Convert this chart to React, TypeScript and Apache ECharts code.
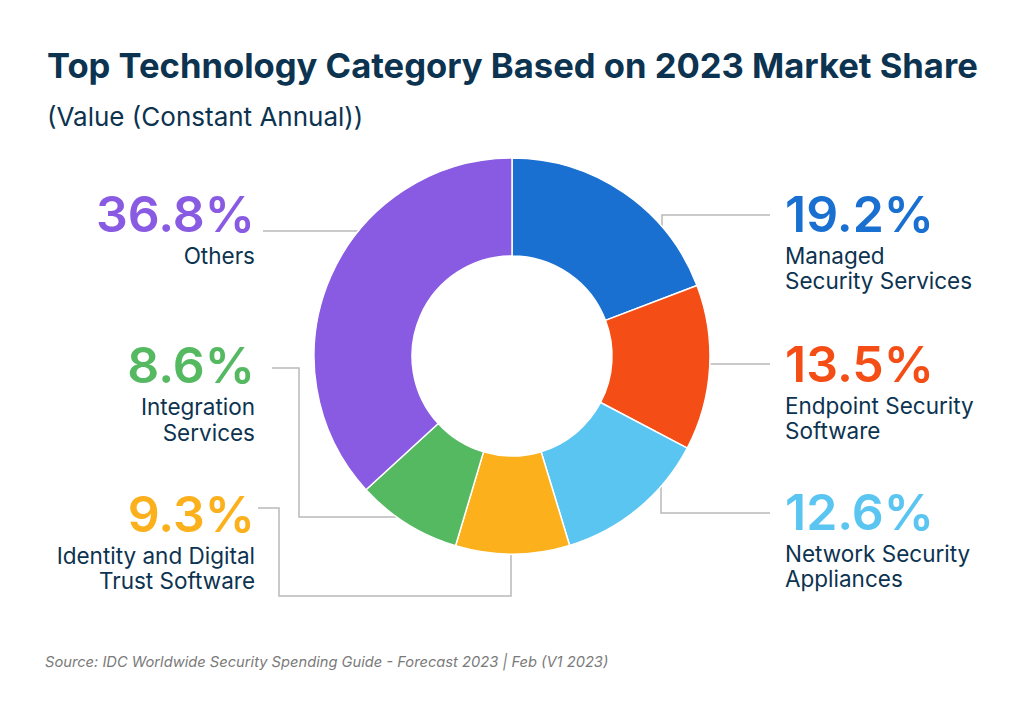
import React, { useEffect, useRef } from "react";
import * as echarts from "echarts";

const categories = [
  "Managed\nSecurity Services",
  "Endpoint Security\nSoftware",
  "Network Security\nAppliances",
  "Identity and Digital\nTrust Software",
  "Integration\nServices",
  "Others",
];
const shares = [19.2, 13.5, 12.6, 9.3, 8.6, 36.8];
const colors = ["#1a70d1", "#f44e16", "#5bc5f2", "#fbb01c", "#55b962", "#895be2"];

const titleText = "Top Technology Category Based on 2023 Market Share";
const subtitleText = "(Value (Constant Annual))";
const sourceText = "Source: IDC Worldwide Security Spending Guide - Forecast 2023 | Feb (V1 2023)";

const NAVY = "#0c3350";
const LINE = "#b9b9b9";
const FONT = "Inter, 'Noto Sans', sans-serif";

// pie geometry (layout)
const CX = 512;
const CY = 356;
const R_IN = 100;
const R_OUT = 198;
const edgeX = (y: number, side: number) => CX + side * Math.sqrt(R_OUT * R_OUT - (y - CY) * (y - CY));
const edgeY = (x: number, side: number) => CY + side * Math.sqrt(R_OUT * R_OUT - (x - CX) * (x - CX));

// label anchor boxes (layout)
const labelBoxes = [
  { x: 785, y: 184.5, align: "left" },
  { x: 785, y: 334.5, align: "left" },
  { x: 785, y: 482.5, align: "left" },
  { x: 255, y: 484.5, align: "right" },
  { x: 255, y: 336, align: "right" },
  { x: 255, y: 184.5, align: "right" },
];

// leader line routes (layout)
const leaderLines: number[][][] = [
  [[662, edgeY(662, -1)], [662, 215], [770, 215]],
  [[edgeX(364, 1), 364], [770, 364]],
  [[661, edgeY(661, 1)], [661, 513], [770, 513]],
  [[511, edgeY(511, 1)], [511, 596], [279, 596], [279, 508], [258, 508]],
  [[edgeX(517, -1), 517], [299, 517], [299, 368], [272, 368]],
  [[edgeX(231, -1), 231], [263, 231]],
];

export default function App() {
  const ref = useRef<HTMLDivElement>(null);

  useEffect(() => {
    document.body.style.margin = "0";
    if (!ref.current) return;
    const chart = echarts.init(ref.current, null, { renderer: "svg" });

    const data = categories.map((name, i) => ({
      name,
      value: shares[i],
      itemStyle: { color: colors[i] },
      label: {
        rich: {
          p: { fontFamily: FONT, fontSize: 50, fontWeight: 600, lineHeight: 58, color: colors[i] },
          n: { fontFamily: FONT, fontSize: 22.5, lineHeight: 25.5, color: NAVY },
        },
      },
    }));

    chart.setOption({
      animation: false,
      backgroundColor: "#ffffff",
      graphic: [
        {
          type: "text",
          left: 47,
          top: 65 - 20,
          style: {
            text: titleText,
            fontFamily: FONT,
            fontSize: 34.6,
            fontWeight: 700,
            fill: NAVY,
            lineHeight: 40,
          },
        },
        {
          type: "text",
          left: 47,
          top: 116.5 - 16,
          style: {
            text: subtitleText,
            fontFamily: FONT,
            fontSize: 26,
            fontWeight: 400,
            fill: NAVY,
            lineHeight: 32,
          },
        },
        {
          type: "text",
          left: 45,
          top: 662 - 10,
          style: {
            text: sourceText,
            fontFamily: FONT,
            fontSize: 14.7,
            fontStyle: "italic",
            fill: "#7a7a7a",
            lineHeight: 20,
          },
        },
      ],
      series: [
        {
          type: "pie",
          center: [CX, CY],
          radius: [R_IN, R_OUT],
          startAngle: 90,
          clockwise: true,
          avoidLabelOverlap: false,
          itemStyle: { borderColor: "#ffffff", borderWidth: 1.5 },
          emphasis: { disabled: true },
          label: {
            show: true,
            position: "outside",
            formatter: (p: any) => {
              const lines = String(p.name).split("\n").map((l) => `{n|${l}}`);
              return [`{p|${Number(p.value).toFixed(1)}%}`, ...lines].join("\n");
            },
          },
          labelLine: {
            show: true,
            smooth: false,
            lineStyle: { color: LINE, width: 1.5 },
          },
          labelLayout: (params: any) => {
            const b = labelBoxes[params.dataIndex];
            return {
              x: b.x,
              y: b.y,
              align: b.align,
              verticalAlign: "top",
              labelLinePoints: leaderLines[params.dataIndex],
            };
          },
          data,
        },
      ],
    });

    return () => chart.dispose();
  }, []);

  return <div ref={ref} style={{ width: 1024, height: 715 }} />;
}
